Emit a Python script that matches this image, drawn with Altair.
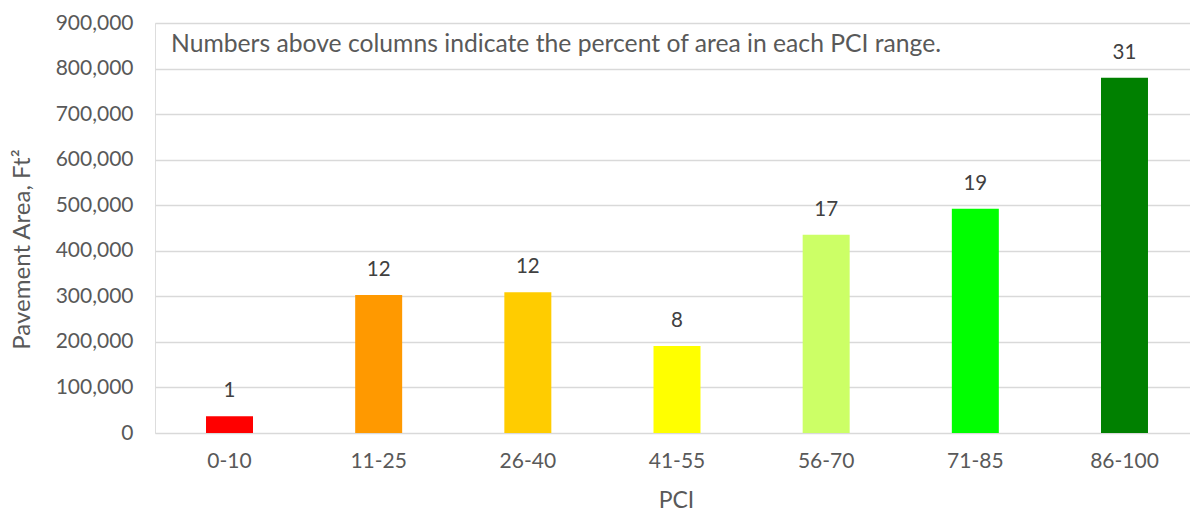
import altair as alt
import pandas as pd

# PCI ranges, pavement area per range (sq ft) and share of total area (%)
pci_ranges = ["0-10", "11-25", "26-40", "41-55", "56-70", "71-85", "86-100"]
area_sqft = [37000, 303000, 309000, 191000, 435000, 492000, 780000]
pct_area = [1, 12, 12, 8, 17, 19, 31]
bar_colors = ["#FF0000", "#FF9900", "#FFCC00", "#FFFF00", "#CCFF66", "#00FF00", "#008000"]

df = pd.DataFrame({"PCI": pci_ranges, "Area": area_sqft, "Pct": pct_area})

FONT = "Lato"
GRAY = "#595959"

x_enc = alt.X(
    "PCI:N",
    sort=pci_ranges,
    scale=alt.Scale(range=[0, 1044], paddingInner=0.685, paddingOuter=0.342),
    axis=alt.Axis(
        title="PCI",
        labelAngle=0,
        labelFont=FONT,
        labelFontSize=21,
        labelColor=GRAY,
        labelPadding=17,
        ticks=False,
        domain=False,
        titleFont=FONT,
        titleFontSize=23,
        titleFontWeight="normal",
        titleColor=GRAY,
        titleX=521,
        titleY=74,
        titleBaseline="alphabetic",
    ),
)

y_enc = alt.Y(
    "Area:Q",
    scale=alt.Scale(domain=[0, 900000], nice=False),
    axis=alt.Axis(
        title="Pavement Area, Ft²",
        values=[i * 100000 for i in range(10)],
        format=",.0f",
        labelFont=FONT,
        labelFontSize=21,
        labelColor=GRAY,
        labelPadding=22,
        ticks=False,
        domain=False,
        grid=True,
        gridColor="#D9D9D9",
        gridWidth=1.5,
        titleFont=FONT,
        titleFontSize=24,
        titleFontWeight="normal",
        titleColor=GRAY,
        titleAngle=-90,
        titleX=-133,
        titleY=226,
        titleBaseline="middle",
        titleAlign="center",
    ),
)

bars = alt.Chart(df).mark_bar().encode(
    x=x_enc,
    y=y_enc,
    color=alt.Color("PCI:N", scale=alt.Scale(domain=pci_ranges, range=bar_colors), legend=None),
)

labels = alt.Chart(df).mark_text(
    font=FONT, fontSize=20.5, color="#404040", baseline="alphabetic", dy=-19
).encode(
    x=alt.X("PCI:N", sort=pci_ranges),
    y="Area:Q",
    text="Pct:Q",
)

note = alt.Chart(pd.DataFrame({"t": ["Numbers above columns indicate the percent of area in each PCI range."]})).mark_text(
    font=FONT, fontSize=24.7, color=GRAY, align="left", baseline="alphabetic"
).encode(
    x=alt.value(16),
    y=alt.value(29),
    text="t:N",
)

chart = (
    alt.layer(bars, labels, note)
    .properties(
        width=1035,
        height=410,
        autosize=alt.AutoSizeParams(type="none"),
        padding={"left": 155, "top": 23, "right": 0, "bottom": 79},
    )
    .configure_view(stroke=None)
    .configure(background="white")
)

chart.save("out.html", embed_options={"renderer": "svg", "actions": False})
